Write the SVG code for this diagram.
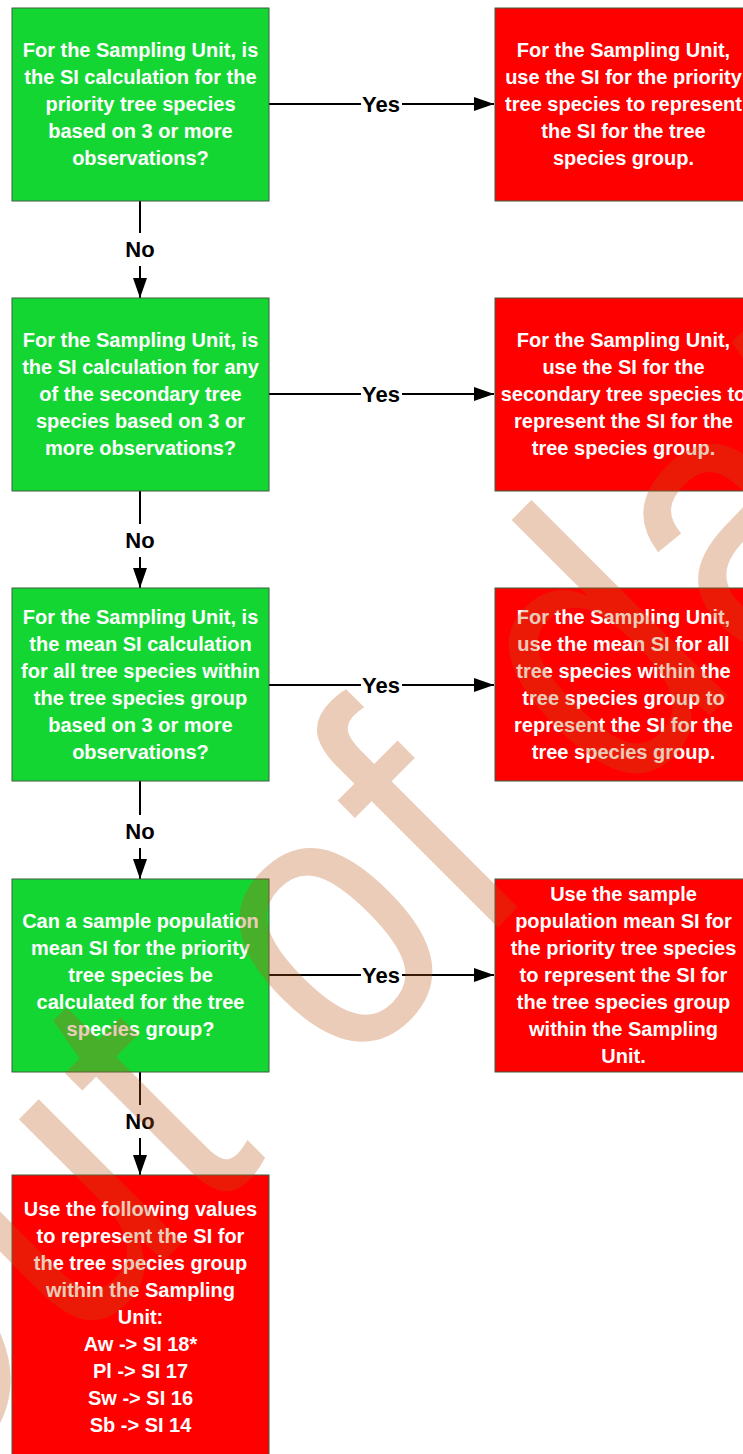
<svg xmlns="http://www.w3.org/2000/svg" width="743" height="1454" viewBox="0 0 743 1454">
<style>
.g{fill:#14d633;stroke:#3d5e40;stroke-width:1}
.r{fill:#ff0000;stroke:#3d5e40;stroke-width:1}
.t{font-family:"Liberation Sans",Arial,sans-serif;font-weight:bold;font-size:20px;fill:#ffffff;text-anchor:middle}
.lb{font-family:"Liberation Sans",Arial,sans-serif;font-weight:bold;font-size:22px;fill:#000000;text-anchor:middle}
.c{stroke:#000;stroke-width:2;fill:none}
.wm{font-family:"Liberation Sans",Arial,sans-serif;font-size:320px;letter-spacing:10px;fill:#c0581a;opacity:0.3}
</style>
<defs>
<marker id="ah" markerUnits="userSpaceOnUse" markerWidth="20" markerHeight="14" refX="20" refY="7" orient="auto">
<path d="M0,0 L20,7 L0,14 z" fill="#000"/>
</marker>
</defs>
<rect width="743" height="1454" fill="#ffffff"/>
<g id="connectors">
<line class="c" x1="269" y1="104" x2="361" y2="104"/><line class="c" x1="402" y1="104" x2="494" y2="104" marker-end="url(#ah)"/>
<text class="lb" x="381" y="112">Yes</text>
<line class="c" x1="269" y1="394" x2="361" y2="394"/><line class="c" x1="402" y1="394" x2="494" y2="394" marker-end="url(#ah)"/>
<text class="lb" x="381" y="402">Yes</text>
<line class="c" x1="269" y1="685" x2="361" y2="685"/><line class="c" x1="402" y1="685" x2="494" y2="685" marker-end="url(#ah)"/>
<text class="lb" x="381" y="693">Yes</text>
<line class="c" x1="269" y1="975" x2="361" y2="975"/><line class="c" x1="402" y1="975" x2="494" y2="975" marker-end="url(#ah)"/>
<text class="lb" x="381" y="983">Yes</text>
<line class="c" x1="140" y1="201" x2="140" y2="233"/><line class="c" x1="140" y1="266" x2="140" y2="298" marker-end="url(#ah)"/>
<text class="lb" x="140" y="257">No</text>
<line class="c" x1="140" y1="491" x2="140" y2="524"/><line class="c" x1="140" y1="557" x2="140" y2="588" marker-end="url(#ah)"/>
<text class="lb" x="140" y="548">No</text>
<line class="c" x1="140" y1="781" x2="140" y2="815"/><line class="c" x1="140" y1="848" x2="140" y2="879" marker-end="url(#ah)"/>
<text class="lb" x="140" y="839">No</text>
<line class="c" x1="140" y1="1072" x2="140" y2="1105"/><line class="c" x1="140" y1="1138" x2="140" y2="1175" marker-end="url(#ah)"/>
<text class="lb" x="140" y="1129">No</text>
</g>
<g id="q1">
<rect class="g" x="12" y="8" width="257" height="193"/>
<text class="t"><tspan x="140.5" y="57">For the Sampling Unit, is</tspan><tspan x="140.5" y="84">the SI calculation for the</tspan><tspan x="140.5" y="111">priority tree species</tspan><tspan x="140.5" y="138">based on 3 or more</tspan><tspan x="140.5" y="165">observations?</tspan></text>
</g>
<g id="a1">
<rect class="r" x="495" y="8" width="257" height="193"/>
<text class="t"><tspan x="623.5" y="57">For the Sampling Unit,</tspan><tspan x="623.5" y="84">use the SI for the priority</tspan><tspan x="623.5" y="111">tree species to represent</tspan><tspan x="623.5" y="138">the SI for the tree</tspan><tspan x="623.5" y="165">species group.</tspan></text>
</g>
<g id="q2">
<rect class="g" x="12" y="298" width="257" height="193"/>
<text class="t"><tspan x="140.5" y="347">For the Sampling Unit, is</tspan><tspan x="140.5" y="374">the SI calculation for any</tspan><tspan x="140.5" y="401">of the secondary tree</tspan><tspan x="140.5" y="428">species based on 3 or</tspan><tspan x="140.5" y="455">more observations?</tspan></text>
</g>
<g id="a2">
<rect class="r" x="495" y="298" width="257" height="193"/>
<text class="t"><tspan x="623.5" y="347">For the Sampling Unit,</tspan><tspan x="623.5" y="374">use the SI for the</tspan><tspan x="623.5" y="401">secondary tree species to</tspan><tspan x="623.5" y="428">represent the SI for the</tspan><tspan x="623.5" y="455">tree species group.</tspan></text>
</g>
<g id="q3">
<rect class="g" x="12" y="588" width="257" height="193"/>
<text class="t"><tspan x="140.5" y="624">For the Sampling Unit, is</tspan><tspan x="140.5" y="651">the mean SI calculation</tspan><tspan x="140.5" y="678">for all tree species within</tspan><tspan x="140.5" y="705">the tree species group</tspan><tspan x="140.5" y="732">based on 3 or more</tspan><tspan x="140.5" y="759">observations?</tspan></text>
</g>
<g id="a3">
<rect class="r" x="495" y="588" width="257" height="193"/>
<text class="t"><tspan x="623.5" y="624">For the Sampling Unit,</tspan><tspan x="623.5" y="651">use the mean SI for all</tspan><tspan x="623.5" y="678">tree species within the</tspan><tspan x="623.5" y="705">tree species group to</tspan><tspan x="623.5" y="732">represent the SI for the</tspan><tspan x="623.5" y="759">tree species group.</tspan></text>
</g>
<g id="q4">
<rect class="g" x="12" y="879" width="257" height="193"/>
<text class="t"><tspan x="140.5" y="928">Can a sample population</tspan><tspan x="140.5" y="955">mean SI for the priority</tspan><tspan x="140.5" y="982">tree species be</tspan><tspan x="140.5" y="1009">calculated for the tree</tspan><tspan x="140.5" y="1036">species group?</tspan></text>
</g>
<g id="a4">
<rect class="r" x="495" y="879" width="257" height="193"/>
<text class="t"><tspan x="623.5" y="901">Use the sample</tspan><tspan x="623.5" y="928">population mean SI for</tspan><tspan x="623.5" y="955">the priority tree species</tspan><tspan x="623.5" y="982">to represent the SI for</tspan><tspan x="623.5" y="1009">the tree species group</tspan><tspan x="623.5" y="1036">within the Sampling</tspan><tspan x="623.5" y="1063">Unit.</tspan></text>
</g>
<g id="a5">
<rect class="r" x="12" y="1175" width="257" height="290"/>
<text class="t"><tspan x="140.5" y="1216">Use the following values</tspan><tspan x="140.5" y="1243">to represent the SI for</tspan><tspan x="140.5" y="1270">the tree species group</tspan><tspan x="140.5" y="1297">within the Sampling</tspan><tspan x="140.5" y="1324">Unit:</tspan><tspan x="140.5" y="1351">Aw -&gt; SI 18*</tspan><tspan x="140.5" y="1378">Pl -&gt; SI 17</tspan><tspan x="140.5" y="1405">Sw -&gt; SI 16</tspan><tspan x="140.5" y="1432">Sb -&gt; SI 14</tspan></text>
</g>
<text class="wm" transform="translate(-111,1536) rotate(-45) scale(1,1.2)">Out of date</text>
</svg>
